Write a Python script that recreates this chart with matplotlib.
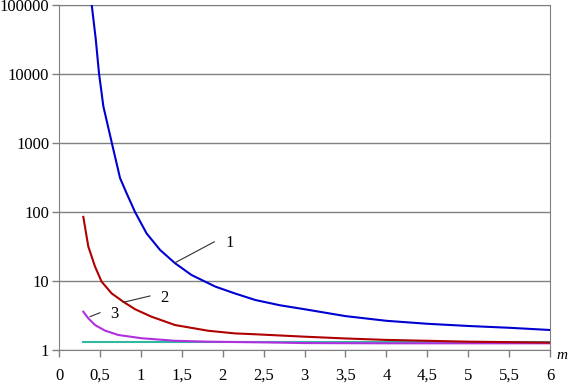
import numpy as np
import matplotlib
matplotlib.use("Agg")
import matplotlib.pyplot as plt
from matplotlib.ticker import FixedLocator, NullLocator

#DATA===================================================================
# -- curve 1 (blue)
m1 = [0.40, 0.449, 0.489, 0.542, 0.644, 0.746, 0.827, 0.929, 1.07, 1.235, 1.418,
      1.62, 1.785, 1.91, 2.15, 2.40, 2.70, 3.00, 3.50, 4.00, 4.50, 5.00, 5.50, 6.00]
y1 = [100000, 32000, 10200, 3400, 1020, 310, 186, 100, 49, 28.2, 18.1,
      12.2, 9.8, 8.3, 6.6, 5.3, 4.45, 3.9, 3.1, 2.65, 2.4, 2.23, 2.1, 1.95]
# -- curve 2 (dark red)
m2 = [0.297, 0.358, 0.44, 0.52, 0.644, 0.786, 0.929, 1.13, 1.418, 1.825, 2.15,
      2.40, 3.00, 3.50, 4.00, 4.50, 5.00, 5.50, 6.00]
y2 = [85, 31.6, 16.2, 9.8, 6.6, 5.0, 3.9, 3.04, 2.3, 1.9, 1.74,
      1.69, 1.56, 1.47, 1.40, 1.36, 1.32, 1.30, 1.28]
# -- curve 3 (violet)
m3 = [0.297, 0.358, 0.44, 0.562, 0.725, 1.01, 1.418, 1.825, 2.50, 3.00, 4.00, 5.00, 6.00]
y3 = [3.59, 2.88, 2.30, 1.91, 1.65, 1.48, 1.36, 1.32, 1.29, 1.26, 1.25, 1.25, 1.25]
# -- horizontal asymptote (teal)
m4 = [0.29, 6.00]
y4 = [1.29, 1.29]

xTicks  = [0, 0.5, 1, 1.5, 2, 2.5, 3, 3.5, 4, 4.5, 5, 5.5, 6]
xLabels = ['0', '0,5', '1', '1,5', '2', '2,5', '3', '3,5', '4', '4,5', '5', '5,5', '6']
yTicks  = [1, 10, 100, 1000, 10000, 100000]
yLabels = ['1', '10', '100', '1000', '10000', '100000']

# -- curve labels: text position, leader line (from, to)
crvLab  = ['1', '2', '3']
labPos  = [(2.09, 35.0), (1.287, 5.6), (0.676, 3.32)]
leadA   = [(1.418, 18.4), (0.786, 4.91), (0.379, 3.04)]
leadB   = [(1.898, 37.0), (1.112, 6.07), (0.501, 3.47)]

#FIGURE=================================================================
plt.rcParams['font.family'] = ['Liberation Serif', 'DejaVu Serif']
plt.rcParams['font.size'] = 12

fig = plt.figure(figsize=(5.69, 3.85), dpi=100, facecolor='w')
ax = fig.add_axes([0.1037, 0.0909, 0.8629, 0.8961])

ax.plot(m4, y4, '-', c='#30b8a0', lw=1.5, zorder=2)
ax.plot(m3, y3, '-', c='#b030e0', lw=1.5, zorder=3)
ax.plot(m2, y2, '-', c='#b00000', lw=1.5, zorder=3)
ax.plot(m1, y1, '-', c='#0000d0', lw=1.5, zorder=4)

ax.set_yscale('log')
ax.set_xlim(0, 6)
ax.set_ylim(1, 100000)

ax.yaxis.set_major_locator(FixedLocator(yTicks))
ax.yaxis.set_minor_locator(NullLocator())
ax.set_yticklabels(yLabels)
ax.set_xticks(xTicks)
ax.set_xticklabels(xLabels)

ax.grid(True, axis='y', color='#808080', lw=1)
for sp in ax.spines.values():
    sp.set_color('#808080')
ax.tick_params(axis='both', color='#808080', length=5, width=1, labelsize=12)
ax.tick_params(axis='y', pad=2)
ax.tick_params(axis='x', pad=8)

# -- curve labels with leader lines
for i in range(len(crvLab)):
    ax.plot([leadA[i][0], leadB[i][0]], [leadA[i][1], leadB[i][1]],
            '-', c='#303030', lw=0.8, zorder=5)
    ax.text(labPos[i][0], labPos[i][1], crvLab[i], fontsize=12,
            ha='center', va='center')

ax.text(1.025, -0.015, 'm', transform=ax.transAxes, fontsize=11,
        style='italic', ha='center', va='center')

plt.savefig('out.png', dpi=100)
